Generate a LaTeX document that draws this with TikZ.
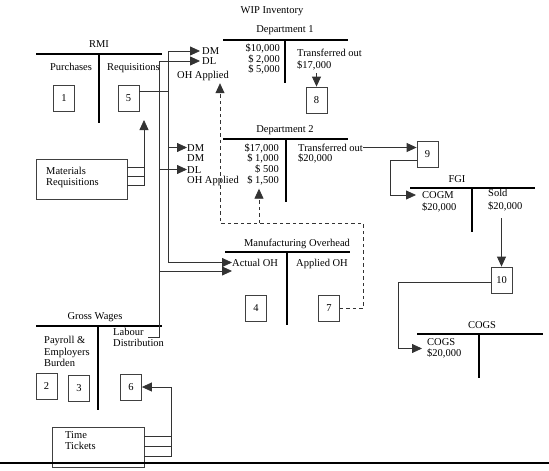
\documentclass[tikz,border=0pt]{standalone}
\usepackage{fontspec}
\setmainfont{Liberation Serif}
\usetikzlibrary{arrows.meta,calc}
\newcommand\dfont{\fontsize{10.5}{12}\selectfont}
\begin{document}
\begin{tikzpicture}[x=1pt,y=-1pt,
  lbl/.style={inner sep=0pt, text height=7pt, text depth=0pt, font=\dfont},
  numbox/.style={draw=black!75, line width=0.8pt, minimum width=21pt, minimum height=26pt, inner sep=0pt, font=\dfont},
  docbox/.style={draw=black!75, line width=0.8pt, inner sep=0pt},
  tline/.style={line width=1.6pt},
  conn/.style={draw=black!80, line width=0.8pt},
  arr/.style={conn, -{Triangle[length=10pt,width=9pt]}},
  darr/.style={conn, dash pattern=on 3.5pt off 3pt, -{Triangle[length=10pt,width=9pt]}},
  dline/.style={conn, dash pattern=on 3.5pt off 3pt}]
\useasboundingbox (0,0) rectangle (549,471);

% ---------- RMI ----------
\node[lbl] (rmi) at (99,44) {RMI};
\draw[tline] (36,54) -- (162,54);
\draw[tline] (99,54) -- (99,123);
\node[lbl] (pur) at (71,67) {Purchases};
\node[lbl,anchor=west] (req) at (107,67) {Requisitions};
\node[numbox] (b1) at (64,98) {1};
\node[numbox] (b5) at (128.5,98) {5};

% ---------- Materials requisitions ----------
\node[docbox, minimum width=91pt, minimum height=40pt] (mr) at (81.5,179) {};
\node[lbl,anchor=west] (mr1) at (46,171) {Materials};
\node[lbl,anchor=west] (mr2) at (46,182) {Requisitions};
\coordinate (mrt) at (144,120);
\draw[arr] ($(mr.east)+(0,6)$) -| (mrt);
\draw[conn] ($(mr.east)+(0,-3)$) -- +(17,0);
\draw[conn] ($(mr.east)+(0,-12)$) -- +(17,0);

% ---------- WIP Dept 1 ----------
\node[lbl] (wip) at (272,10) {WIP Inventory};
\node[lbl] (d1t) at (285,29) {Department 1};
\draw[tline] (223,40) -- (348,40);
\draw[tline] (285,40) -- (285,83);
\node[lbl,anchor=east] (d1a) at (280,48) {\$10,000};
\node[lbl,anchor=east] (d1b) at (280,58.5) {\$~2,000};
\node[lbl,anchor=east] (d1c) at (280,69) {\$~5,000};
\node[lbl,anchor=west] (dm1) at (202,51) {DM};
\node[lbl,anchor=west] (dl1) at (202,61) {DL};
\node[lbl,anchor=west] (oh1) at (177,75) {OH Applied};
\node[lbl,anchor=west] (to1) at (297,53) {Transferred out};
\node[lbl,anchor=west] (to1v) at (297,65) {\$17,000};
\node[numbox] (b8) at (316.5,100) {8};
\draw[arr] ($(b8.north |- to1v.south)+(0,4.5)$) -- (b8.north);

% ---------- WIP Dept 2 ----------
\node[lbl] (d2t) at (285,129) {Department 2};
\draw[tline] (223,139) -- (348,139);
\draw[tline] (286,139) -- (286,202);
\node[lbl,anchor=east] (d2a) at (279,147.5) {\$17,000};
\node[lbl,anchor=east] (d2b) at (279,158) {\$~1,000};
\node[lbl,anchor=east] (d2c) at (279,169) {\$~500};
\node[lbl,anchor=east] (d2d) at (279,180) {\$~1,500};
\node[lbl,anchor=west] (dm2) at (187,147.5) {DM};
\node[lbl,anchor=west] (dm2b) at (187,158) {DM};
\node[lbl,anchor=west] (dl2) at (187,169.5) {DL};
\node[lbl,anchor=west] (oh2) at (187,180) {OH Applied};
\node[lbl,anchor=west] (to2) at (298,147.5) {Transferred out};
\node[lbl,anchor=west] (to2v) at (298,157.5) {\$20,000};

% ---------- FGI ----------
\node[numbox] (b9) at (427.5,154) {9};
\draw[arr] (to2.east) -- (to2.east -| b9.west);
\node[lbl] (fgi) at (457,179) {FGI};
\draw[tline] (410,188) -- (535,188);
\draw[tline] (472,188) -- (472,232);
\node[lbl,anchor=west] (cogm) at (422,195) {COGM};
\node[lbl,anchor=west] (cogmv) at (422,206.5) {\$20,000};
\node[lbl,anchor=west] (sold) at (488,193) {Sold};
\node[lbl,anchor=west] (soldv) at (488,205.5) {\$20,000};
\draw[arr] ($(b9.west)+(0,6)$) -| ($(cogm.west)+(-32,0)$) -- ($(cogm.west)+(-6,0)$);
\node[numbox] (b10) at (501.5,280) {10};
\draw[arr] ($(soldv.south -| b10.north)+(0,9)$) -- (b10.north);

% ---------- COGS ----------
\node[lbl] (cgt) at (482,325) {COGS};
\draw[tline] (417,334) -- (543,334);
\draw[tline] (479,334) -- (479,378);
\node[lbl,anchor=west] (cg) at (427,341.5) {COGS};
\node[lbl,anchor=west] (cgv) at (427,353) {\$20,000};
\coordinate (cgtip) at (422,348.5);
\draw[arr] ($(b10.west)+(0,2)$) -| ($(cgtip)+(-24,0)$) -- (cgtip);

% ---------- Manufacturing overhead ----------
\node[lbl] (moh) at (297,243) {Manufacturing Overhead};
\draw[tline] (225,252) -- (350,252);
\draw[tline] (287,252) -- (287,325);
\node[lbl,anchor=west] (aoh) at (232,262.5) {Actual OH};
\node[lbl] (apoh) at (322,262.5) {Applied OH};
\node[numbox] (b4) at (256,308.5) {4};
\node[numbox] (b7) at (329,308.5) {7};

% dashed applied-overhead connectors
\coordinate (dR) at (363,223);
\coordinate (dL) at (220,223);
\coordinate (dM) at (259,223);
\draw[darr] (b7.east) -| (dR) -- (dL) -- ($(dL |- oh1.south)+(0,4.5)$);
\draw[darr] (dM) -- ($(dM |- d2d.south)+(0,5)$);

% ---------- Gross wages ----------
\node[lbl] (gw) at (95,316) {Gross Wages};
\draw[tline] (36,326) -- (162,326);
\draw[tline] (98,326) -- (98,410);
\node[lbl,anchor=west] (pay1) at (44,340) {Payroll \&};
\node[lbl,anchor=west] (pay2) at (44,351.5) {Employers};
\node[lbl,anchor=west] (pay3) at (44,362.5) {Burden};
\node[lbl,anchor=west] (lab1) at (113,332) {Labour};
\node[lbl,anchor=west] (lab2) at (113,343) {Distribution};
\node[numbox] (b2) at (46.5,386.5) {2};
\node[numbox] (b3) at (79,388) {3};
\node[numbox] (b6) at (131,387) {6};

% ---------- Time tickets ----------
\node[docbox, minimum width=92pt, minimum height=40pt] (tt) at (98,447) {};
\node[lbl,anchor=west] (tt1) at (65,435) {Time};
\node[lbl,anchor=west] (tt2) at (65,446) {Tickets};
\draw[arr] ($(tt.east)+(0,9)$) -| ($(b6.east)+(29,0)$) -- (b6.east);
\draw[conn] ($(tt.east)+(0,-1)$) -- +(27,0);
\draw[conn] ($(tt.east)+(0,-11)$) -- +(27,0);

% ---------- main distribution lines ----------
% line A: materials (box 5) -> DM
\coordinate (jA) at (168,91);
\draw[conn] ($(b5.east)+(0,-7)$) -- (jA);
\draw[arr] (jA) |- ($(dm1.west)+(-2,0)$);
\draw[arr] (jA) |- (aoh.west);
\draw[arr] (jA |- dm2.west) -- (dm2.west);
% line B: labour distribution -> DL
\coordinate (hB) at (148,337);
\coordinate (jB) at (159,337);
\coordinate (aoh2) at ($(aoh.west)+(0,8.5)$);
\draw[arr] (hB) -- (jB) |- ($(dl1.west)+(-2,0)$);
\draw[arr] (jB |- dl2.west) -- (dl2.west);
\draw[arr] (jB |- aoh2) -- (aoh2);

% bottom rule
\draw[line width=1.2pt] (0,463) -- (549,463);
\end{tikzpicture}
\end{document}
